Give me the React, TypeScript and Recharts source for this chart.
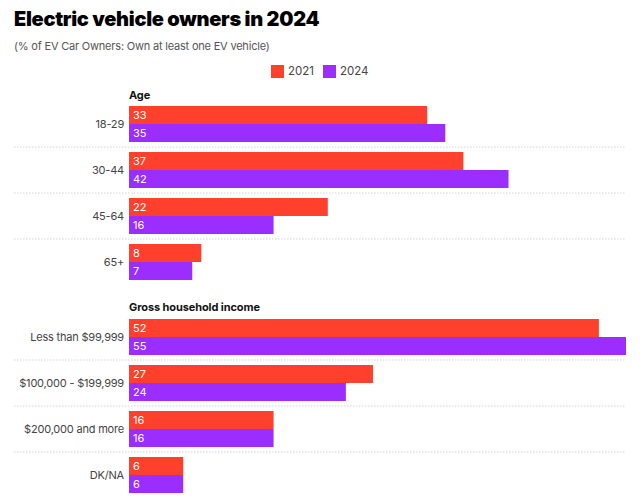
import { BarChart, Bar, XAxis, YAxis, LabelList } from "recharts";

const title = "Electric vehicle owners in 2024";
const subtitle = "(% of EV Car Owners: Own at least one EV vehicle)";

const years = ["2021", "2024"];
const colors = ["#ff402d", "#9b2dff"];

const ageHeader = "Age";
const ageGroups = ["18-29", "30-44", "45-64", "65+"];
const age2021 = [33, 37, 22, 8];
const age2024 = [35, 42, 16, 7];

const incomeHeader = "Gross household income";
const incomeGroups = ["Less than $99,999", "$100,000 - $199,999", "$200,000 and more", "DK/NA"];
const income2021 = [52, 27, 16, 6];
const income2024 = [55, 24, 16, 6];

const MAX = 55;
const ROW = 46;
const FONT = "Inter, 'Noto Sans', sans-serif";

const makeRows = (labels: string[], a: number[], b: number[]) =>
  labels.map((label, i) => ({ label, y2021: a[i], y2024: b[i] }));

const RowTick = (props: any) => {
  const { x, y, payload, index, count } = props;
  return (
    <g>
      <text
        x={x}
        y={y}
        dy={4}
        textAnchor="end"
        fontSize={11}
        fill="#444"
        fontFamily={FONT}
        letterSpacing={-0.2}
      >
        {payload.value}
      </text>
      {index < count - 1 && (
        <line x1={14} x2={626} y1={y + ROW / 2} y2={y + ROW / 2} stroke="#d4d4d4" strokeDasharray="1.5 1.5" />
      )}
    </g>
  );
};

function Group({ rows, top }: { rows: any[]; top: number }) {
  return (
    <div style={{ position: "absolute", left: 0, top }}>
      <BarChart
        width={640}
        height={ROW * rows.length}
        data={rows}
        layout="vertical"
        margin={{ top: 0, right: 14, bottom: 0, left: 0 }}
        barCategoryGap={5}
        barGap={0}
      >
        <XAxis type="number" domain={[0, MAX]} hide />
        <YAxis
          type="category"
          dataKey="label"
          width={129}
          axisLine={false}
          tickLine={false}
          tickSize={0}
          tickMargin={5}
          interval={0}
          tick={<RowTick count={rows.length} />}
        />
        {years.map((yr, i) => (
          <Bar key={yr} dataKey={"y" + yr} fill={colors[i]} isAnimationActive={false}>
            <LabelList
              dataKey={"y" + yr}
              position="insideLeft"
              offset={4}
              fill="#fff"
              fontSize={11}
              fontFamily={FONT}
            />
          </Bar>
        ))}
      </BarChart>
    </div>
  );
}

export default function App() {
  const headerStyle: any = {
    position: "absolute",
    left: 129,
    fontSize: 11,
    lineHeight: "11px",
    fontWeight: 700,
    color: "#111",
    fontFamily: FONT,
    letterSpacing: -0.1,
    whiteSpace: "nowrap",
  };
  return (
    <div style={{ position: "absolute", left: 0, top: 0, width: 640, height: 499, background: "#fff", fontFamily: FONT }}>
      <div
        style={{
          position: "absolute",
          left: 14,
          top: 9,
          fontSize: 20,
          lineHeight: "20px",
          fontWeight: 900,
          color: "#000",
          letterSpacing: -0.3,
          whiteSpace: "nowrap",
        }}
      >
        {title}
      </div>
      <div
        style={{
          position: "absolute",
          left: 14,
          top: 41,
          fontSize: 11,
          lineHeight: "11px",
          color: "#555",
          letterSpacing: -0.2,
          whiteSpace: "nowrap",
        }}
      >
        {subtitle}
      </div>
      <div style={{ position: "absolute", left: 271, top: 65, display: "flex", alignItems: "center", height: 13 }}>
        {years.map((yr, i) => (
          <div key={yr} style={{ display: "flex", alignItems: "center", marginRight: 9 }}>
            <div style={{ width: 13, height: 13, background: colors[i], marginRight: 4 }} />
            <span style={{ fontSize: 11.5, color: "#444", lineHeight: "13px" }}>{yr}</span>
          </div>
        ))}
      </div>
      <div style={{ ...headerStyle, top: 90 }}>{ageHeader}</div>
      <Group rows={makeRows(ageGroups, age2021, age2024)} top={101} />
      <div style={{ ...headerStyle, top: 302 }}>{incomeHeader}</div>
      <Group rows={makeRows(incomeGroups, income2021, income2024)} top={314} />
    </div>
  );
}
